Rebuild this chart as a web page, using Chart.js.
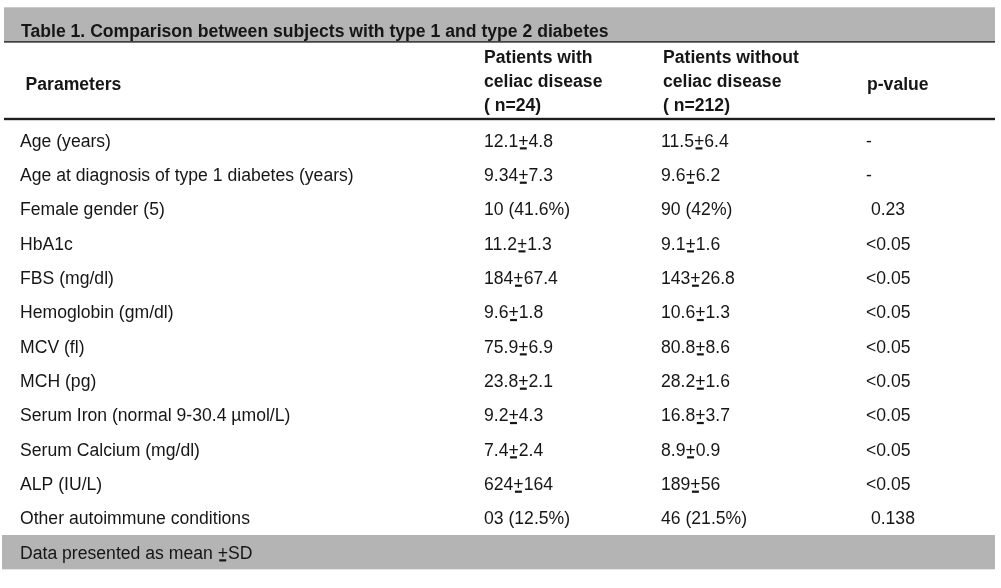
<!DOCTYPE html>
<html>
<head>
<meta charset="utf-8">
<script src="https://cdn.jsdelivr.net/npm/chart.js@4"></script>
<style>
html,body{margin:0;padding:0;background:#fff;}
#wrap{width:1001px;height:588px;position:relative;}
</style>
</head>
<body>
<div id="wrap"><canvas id="c" width="1001" height="588"></canvas></div>
<script>
// ---- data ----
const tableTitle = "Table 1. Comparison between subjects with type 1 and type 2 diabetes";
const columnHeaders = [
  ["Parameters"],
  ["Patients with", "celiac disease", "( n=24)"],
  ["Patients without", "celiac disease", "( n=212)"],
  ["p-value"]
];
const parameters = [
  "Age (years)",
  "Age at diagnosis of type 1 diabetes (years)",
  "Female gender (5)",
  "HbA1c",
  "FBS (mg/dl)",
  "Hemoglobin (gm/dl)",
  "MCV (fl)",
  "MCH (pg)",
  "Serum Iron (normal 9-30.4 \u00b5mol/L)",
  "Serum Calcium (mg/dl)",
  "ALP (IU/L)",
  "Other autoimmune conditions"
];
const withCeliac = [
  "12.1+4.8", "9.34+7.3", "10 (41.6%)", "11.2+1.3", "184+67.4", "9.6+1.8",
  "75.9+6.9", "23.8+2.1", "9.2+4.3", "7.4+2.4", "624+164", "03 (12.5%)"
];
const withoutCeliac = [
  "11.5+6.4", "9.6+6.2", "90 (42%)", "9.1+1.6", "143+26.8", "10.6+1.3",
  "80.8+8.6", "28.2+1.6", "16.8+3.7", "8.9+0.9", "189+56", "46 (21.5%)"
];
const pValues = [
  "-", "-", " 0.23", "<0.05", "<0.05", "<0.05",
  "<0.05", "<0.05", "<0.05", "<0.05", "<0.05", " 0.138"
];
const footnote = "Data presented as mean +SD";

// ---- layout / style ----
const FONT = '"Liberation Sans", Arial, Helvetica, sans-serif';
const SX = 0.978;
const GRAY = '#b4b4b4';
const INK = '#161616';
const colX = [20, 484, 661, 866];
const headX = [25.5, 484, 663, 867];

function drawText(ctx, s, x, y, bold) {
  ctx.save();
  ctx.font = (bold ? 'bold ' : '') + '18px ' + FONT;
  ctx.fillStyle = INK;
  ctx.textBaseline = 'alphabetic';
  ctx.textAlign = 'left';
  ctx.translate(x, y);
  ctx.scale(SX, 1);
  ctx.fillText(s, 0, 0);
  // underline every "+" (mean +SD notation)
  for (let i = 0; i < s.length; i++) {
    if (s[i] === '+') {
      const w0 = ctx.measureText(s.slice(0, i)).width;
      const w1 = ctx.measureText('+').width;
      ctx.fillRect(w0 + 1.6, 0.6, w1 - 3.4, 2.2);
    }
  }
  ctx.restore();
}

const tablePlugin = {
  id: 'tablePlugin',
  afterDraw(chart) {
    const ctx = chart.ctx;
    const xs = chart.scales.x, ys = chart.scales.y;
    const top = chart.chartArea.top;
    const L = xs.getPixelForValue(4), R = xs.getPixelForValue(995);
    ctx.save();
    // title band
    ctx.fillStyle = GRAY;
    ctx.fillRect(L, top - 115.7, R - L, 34.4);
    ctx.fillStyle = '#1e1e1e';
    ctx.fillRect(L, top - 81.8, R - L, 1.4);
    // header bottom rule
    ctx.fillRect(L, top - 5.2, R - L, 2.4);
    // footer band (one row below the last parameter)
    const fTop = ys.getPixelForValue(parameters.length - 0.5);
    const fBot = ys.getPixelForValue(parameters.length + 0.5);
    ctx.fillStyle = GRAY;
    ctx.fillRect(xs.getPixelForValue(2), fTop, R - xs.getPixelForValue(2), fBot - fTop);
    ctx.restore();

    // title
    drawText(ctx, tableTitle, xs.getPixelForValue(21), top - 86.3, true);
    // column headers
    const lineBase = [top - 59.7, top - 35.7, top - 12];
    columnHeaders.forEach((lines, c) => {
      const hx = xs.getPixelForValue(headX[c]);
      if (lines.length === 1) {
        drawText(ctx, lines[0], hx, top - 33.5, true);
      } else {
        lines.forEach((ln, k) => drawText(ctx, ln, hx, lineBase[k], true));
      }
    });
    // body rows
    const cols = [parameters, withCeliac, withoutCeliac, pValues];
    parameters.forEach((p, i) => {
      const yb = ys.getPixelForValue(i) + 6.5;
      cols.forEach((arr, c) => drawText(ctx, arr[i], xs.getPixelForValue(colX[c]), yb, false));
    });
    // footnote
    drawText(ctx, footnote, xs.getPixelForValue(20), ys.getPixelForValue(parameters.length) + 6.5, false);
  }
};

new Chart(document.getElementById('c'), {
  type: 'bar',
  data: {
    labels: parameters,
    datasets: [{ data: parameters.map(() => null), backgroundColor: 'rgba(0,0,0,0)' }]
  },
  options: {
    indexAxis: 'y',
    responsive: false,
    animation: false,
    devicePixelRatio: 1,
    layout: { padding: { top: 123, bottom: 53, left: 0, right: 0 } },
    plugins: { legend: { display: false }, tooltip: { enabled: false }, title: { display: false } },
    scales: {
      x: { type: 'linear', min: 0, max: 1001, display: false },
      y: { type: 'category', display: false, offset: true }
    }
  },
  plugins: [tablePlugin]
});
</script>
</body>
</html>
